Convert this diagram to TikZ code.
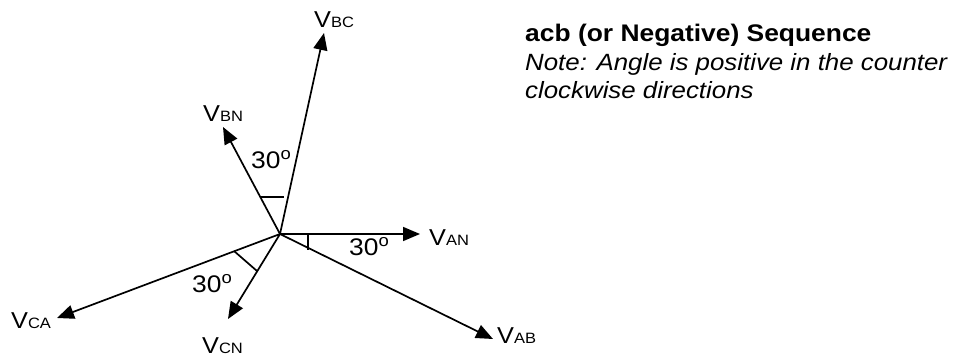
\documentclass[tikz,border=0pt]{standalone}
\usepackage{fontspec}
\setmainfont{Liberation Sans}[FakeStretch=1.1]
\usetikzlibrary{arrows.meta}
\newcommand\vsub[1]{{\fontsize{15}{17}\selectfont #1}}
\begin{document}
\begin{tikzpicture}[x=1pt,y=-1pt,
 vec/.style={line width=1.7pt,-{Triangle[length=17pt,width=14pt]}},
 tickmark/.style={line width=1.7pt},
 lbl/.style={anchor=base west,inner sep=0pt,font=\fontsize{23}{27}\selectfont},
 ang/.style={anchor=base west,inner sep=0pt,font=\fontsize{24}{28}\selectfont},
 txt/.style={anchor=base west,inner sep=0pt,font=\fontsize{24}{28}\selectfont},
 notetxt/.style={anchor=base west,inner sep=0pt,font=\fontsize{23.5}{28}\selectfont\itshape}]
\useasboundingbox (0,0) rectangle (962,358);
% origin and tips
\coordinate (O) at (280,234);
\coordinate (AN) at (420,234);
\coordinate (AB) at (493,339);
\coordinate (BC) at (324,33);
\coordinate (BN) at (223,127);
\coordinate (CA) at (57,318);
\coordinate (CN) at (228,319);
\draw[vec] (O) -- (AN);
\draw[vec] (O) -- (AB);
\draw[vec] (O) -- (BC);
\draw[vec] (O) -- (BN);
\draw[vec] (O) -- (CA);
\draw[vec] (O) -- (CN);
% angle marks
\draw[tickmark] (308,234) -- (308,250);
\draw[tickmark] (261,197) -- (284,197);
\draw[tickmark] (234,251) -- (257,271);
% vector labels
\node[lbl] (lAN) at (429,246) {V\vsub{AN}};
\node[lbl] (lAB) at (497,343) {V\vsub{AB}};
\node[lbl] (lBC) at (314,28) {V\vsub{BC}};
\node[lbl] (lBN) at (203,122) {V\vsub{BN}};
\node[lbl] (lCA) at (11,328) {V\vsub{CA}};
\node[lbl] (lCN) at (202,353) {V\vsub{CN}};
% angle labels
\node[ang] (a1) at (349,256) {30\textsuperscript{o}};
\node[ang] (a2) at (251,169) {30\textsuperscript{o}};
\node[ang] (a3) at (192,293) {30\textsuperscript{o}};
% text
\node[txt] (title) at (525,42) {\bfseries acb (or Negative) Sequence};
\node[notetxt] (note1) at (525,71) {Note: Angle is positive in the counter};
\node[notetxt] (note2) at (525,99) {clockwise directions};
\end{tikzpicture}
\end{document}
